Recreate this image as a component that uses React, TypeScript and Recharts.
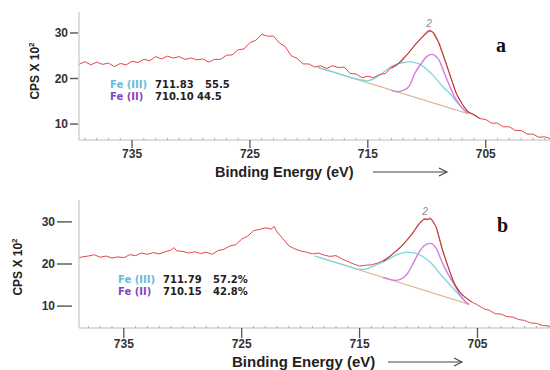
import { LineChart, Line, XAxis, YAxis } from "recharts"

// ---- panel a : measured spectrum ----
const energyA = [
  739.5, 739, 738.5, 738, 737.5, 737, 736.5, 736, 735.5, 735, 734.5, 734, 733.5, 733, 732.5, 732,
  731.5, 731, 730.5, 730, 729.5, 729, 728.5, 728, 727.5, 727, 726.5, 726, 725.5, 725, 724.5, 724,
  723.5, 723, 722.5, 722, 721.5, 721, 720.5, 720, 719.5, 719, 718.5, 718, 717.5, 717, 716.5, 716,
  715.5, 715, 714.5, 714, 713.5, 713, 712.5, 712, 711.5, 711, 710.5, 710, 709.75, 709.5, 709,
  708.5, 708, 707.5, 707, 706.5, 706, 705.5, 705, 704.5, 704, 703.5, 703, 702.5, 702, 701.5, 701,
  700.5, 700, 699.5,
]
const cpsA = [
  23.1, 23.7, 23.0, 23.6, 23.1, 23.4, 22.6, 23.3, 23.0, 23.8, 23.5, 24.2, 23.9, 24.8, 24.3, 24.9,
  24.5, 24.8, 24.2, 24.5, 24.1, 24.3, 23.6, 24.2, 24.2, 25.1, 25.2, 26.3, 26.5, 27.9, 28.4, 29.7,
  29.3, 29.3, 27.8, 27.0, 25.0, 24.4, 23.2, 23.2, 22.5, 22.8, 22.2, 22.8, 22.4, 22.5, 21.1, 21.0,
  20.2, 20.5, 20.2, 20.9, 21.1, 22.5, 23.0, 24.5, 25.7, 27.5, 28.7, 30.3, 30.6, 30.2, 27.9,
  24.3, 20.5, 16.7, 14.4, 12.7, 12.1, 11.2, 11.0, 10.2, 10.2, 9.4, 9.4, 8.6, 8.6, 7.8, 7.8,
  7.1, 7.2, 6.8,
]
// panel a : fit
const envEnergyA = [713, 712.5, 712, 711.5, 711, 710.5, 710, 709.75, 709.5, 709, 708.5, 708, 707.5, 707, 706.5, 706, 705.5]
const envA = [22.2, 23.1, 24.2, 25.8, 27.3, 28.8, 30.0, 30.4, 30.2, 28.0, 24.4, 20.5, 16.8, 14.4, 12.7, 12.0, 11.2]
const bgEnergyA = [719.2, 706.5]
const bgA = [22.4, 12.3]
const fe3EnergyA = [719.2, 718, 717, 716, 715, 714.5, 714, 713.5, 713, 712.5, 712, 711.5, 711, 710.5, 710, 709.5, 709, 708.5, 708, 707.5, 707, 706.5]
const fe3A = [22.4, 21.5, 20.7, 19.9, 19.5, 19.9, 20.7, 21.7, 22.6, 23.2, 23.5, 23.7, 23.5, 23.0, 22.0, 20.8, 19.3, 17.8, 16.6, 15.0, 13.6, 12.3]
const fe2EnergyA = [713, 712.5, 712, 711.5, 711, 710.5, 710, 709.6, 709, 708.5, 708, 707.5, 707, 706.5]
const fe2A = [17.4, 17.1, 17.4, 18.3, 21.2, 23.2, 24.8, 25.3, 24.2, 21.1, 18.0, 15.3, 13.5, 12.3]

// ---- panel b : measured spectrum ----
const energyB = [
  739, 738.5, 738, 737.5, 737, 736.5, 736, 735.5, 735, 734.5, 734, 733.5, 733, 732.5, 732, 731.5,
  731, 730.75, 730.5, 730, 729.5, 729, 728.5, 728, 727.5, 727, 726.5, 726, 725.5, 725, 724.5, 724,
  723.5, 723, 722.5, 722.25, 722, 721.5, 721, 720.5, 720, 719.5, 719, 718.5, 718, 717.5, 717,
  716.5, 716, 715.5, 715, 714.5, 714, 713.5, 713, 712.5, 712, 711.5, 711, 710.5, 710, 709.5,
  709.25, 709, 708.5, 708, 707.5, 707, 706.5, 706, 705.5, 705, 704.5, 704, 703.5, 703, 702.5,
  702, 701.5, 701, 700.5, 700, 699.5, 699, 698.5,
]
const cpsB = [
  21.3, 21.7, 21.9, 22.2, 21.6, 21.9, 21.4, 21.7, 21.5, 22.2, 22.0, 22.6, 22.3, 22.7, 22.4, 22.9,
  23.3, 23.9, 23.1, 23.0, 22.6, 22.9, 22.5, 22.8, 22.3, 23.2, 23.5, 24.3, 24.6, 25.9, 26.6, 27.9,
  28.2, 28.6, 28.3, 28.9, 27.6, 26.0, 24.3, 23.6, 23.1, 22.8, 22.4, 22.6, 22.1, 21.8, 22.0,
  21.2, 20.6, 20.0, 19.5, 19.7, 19.8, 20.2, 20.8, 21.7, 22.9, 24.0, 25.6, 27.2, 29.5, 30.8,
  30.5, 31.0, 28.8, 23.6, 19.4, 15.5, 13.3, 12.0, 11.0, 10.3, 9.4, 9.0, 8.2, 8.1, 7.5,
  7.4, 6.8, 6.6, 6.0, 5.9, 5.4, 5.3, 4.9,
]
// panel b : fit
const envEnergyB = [713, 712.5, 712, 711.5, 711, 710.5, 710, 709.5, 709, 708.5, 708, 707.5, 707, 706.5, 706, 705.5]
const envB = [20.6, 21.6, 22.8, 24.1, 25.6, 27.4, 29.3, 30.6, 30.7, 28.7, 23.7, 19.4, 15.6, 13.3, 12.0, 11.0]
const bgEnergyB = [718.8, 705.7]
const bgB = [21.9, 10.4]
const fe3EnergyB = [718.8, 718, 717, 716, 715, 714.5, 714, 713.5, 713, 712.5, 712, 711.5, 711, 710.5, 710, 709.5, 709, 708.5, 708, 707.5, 707, 706.5, 706, 705.7]
const fe3B = [21.9, 21.2, 20.35, 19.5, 18.7, 18.8, 19.3, 19.9, 20.5, 21.2, 22.0, 22.5, 22.8, 22.7, 22.3, 21.5, 20.4, 18.8, 17.1, 15.6, 14.0, 12.5, 11.0, 10.4]
const fe2EnergyB = [713, 712.5, 712, 711.5, 711, 710.5, 710, 709.5, 709, 708.5, 708, 707.5, 707, 706.5, 706, 705.7]
const fe2B = [16.8, 16.4, 16.1, 16.4, 17.5, 19.9, 22.6, 24.4, 24.9, 23.7, 20.4, 17.6, 15.3, 12.8, 11.0, 10.4]

// ticks
const majorTicks = [735, 725, 715, 705]
const minorTicksA = [
  700, 701, 702, 703, 704, 705, 706, 707, 708, 709, 710, 711, 712, 713, 714, 715, 716, 717, 718, 719,
  720, 721, 722, 723, 724, 725, 726, 727, 728, 729, 730, 731, 732, 733, 734, 735, 736, 737, 738, 739,
]
const minorTicksB = [
  699, 700, 701, 702, 703, 704, 705, 706, 707, 708, 709, 710, 711, 712, 713, 714, 715, 716, 717, 718,
  719, 720, 721, 722, 723, 724, 725, 726, 727, 728, 729, 730, 731, 732, 733, 734, 735, 736, 737, 738,
]
const yTicks = [10, 20, 30]

const pairs = (es: number[], vs: number[]) => es.map((e, i) => ({ e, v: vs[i] }))

const SANS = '"Liberation Sans", Arial, Helvetica, sans-serif'
const WIDE = '"DejaVu Sans", Verdana, sans-serif'

const C_SPEC = "#e2474b"
const C_ENV = "#a5352b"
const C_BG = "#dbbb9e"
const C_FE3 = "#7fd6de"
const C_FE2 = "#d67ce0"

function EnergyTick({ x, y, payload, len, gap }: any) {
  if (!majorTicks.includes(payload.value)) {
    return <line x1={x} x2={x} y1={y - 2} y2={y} stroke="#aaa" />
  }
  return (
    <g>
      <line x1={x} x2={x} y1={y} y2={y + len} stroke="#555" strokeWidth={1.3} />
      <text x={x} y={y + gap} textAnchor="middle" fontSize={12} fontWeight="bold" fill="#333" fontFamily={SANS}>
        {payload.value}
      </text>
    </g>
  )
}

function CpsTick({ x, y, payload, from, to, textX }: any) {
  return (
    <g>
      <line x1={x - from} x2={x - to} y1={y} y2={y} stroke="#555" strokeWidth={1.4} />
      <text x={x - textX} y={y + 4} textAnchor="end" fontSize={12} fontWeight="bold" fill="#333" fontFamily={SANS}>
        {payload.value}
      </text>
    </g>
  )
}

function Panel(props: any) {
  const { marginTop, axisHeight, domain, yDomain, minorTicks, spec, env, bg, fe3, fe2, xt, yt } = props
  return (
    <LineChart width={560} height={185} margin={{ top: marginTop, right: 0, bottom: 0, left: 0 }}>
      <XAxis
        dataKey="e"
        type="number"
        domain={domain}
        reversed
        allowDataOverflow
        ticks={minorTicks}
        interval={0}
        tickSize={0}
        tickMargin={0}
        tickLine={false}
        height={axisHeight}
        axisLine={{ stroke: "#bdbdbd" }}
        tick={(p: any) => <EnergyTick {...p} len={xt.len} gap={xt.gap} />}
      />
      <XAxis
        xAxisId="top"
        orientation="top"
        type="number"
        domain={domain}
        height={0}
        tick={false}
        tickLine={false}
        axisLine={{ stroke: "#cfcfcf" }}
      />
      <YAxis
        type="number"
        domain={yDomain}
        allowDataOverflow
        ticks={yTicks}
        interval={0}
        width={79}
        tickSize={0}
        tickMargin={0}
        tickLine={false}
        axisLine={{ stroke: "#bdbdbd" }}
        tick={(p: any) => <CpsTick {...p} from={yt.from} to={yt.to} textX={yt.textX} />}
      />
      <Line data={bg} dataKey="v" type="linear" stroke={C_BG} strokeWidth={1.2} dot={false} isAnimationActive={false} />
      <Line data={fe3} dataKey="v" type="monotone" stroke={C_FE3} strokeWidth={1.3} dot={false} isAnimationActive={false} />
      <Line data={fe2} dataKey="v" type="monotone" stroke={C_FE2} strokeWidth={1.4} dot={false} isAnimationActive={false} />
      <Line data={spec} dataKey="v" type="linear" stroke={C_SPEC} strokeWidth={1} dot={false} isAnimationActive={false} />
      <Line data={env} dataKey="v" type="monotone" stroke={C_ENV} strokeWidth={1.1} strokeOpacity={0.75} dot={false} isAnimationActive={false} />
    </LineChart>
  )
}

function Arrow({ x1, x2, y }: any) {
  return (
    <g stroke="#444" strokeWidth={1.1} fill="none">
      <line x1={x1} x2={x2} y1={y} y2={y} />
      <polyline points={`${x2 - 8},${y - 4} ${x2},${y} ${x2 - 8},${y + 4}`} />
    </g>
  )
}

export default function App() {
  const t = { fontFamily: SANS, fontWeight: "bold" as const }
  const w = { fontFamily: WIDE, fontWeight: "bold" as const, fontSize: 10 }
  return (
    <div style={{ position: "absolute", left: 0, top: 0, width: 550, height: 370, overflow: "hidden", background: "#fff" }}>
      <div style={{ position: "absolute", left: 0, top: 0 }}>
        <Panel
          marginTop={12}
          axisHeight={45}
          domain={[698.7, 739.5]}
          yDomain={[6.5, 34.6]}
          minorTicks={minorTicksA}
          spec={pairs(energyA, cpsA)}
          env={pairs(envEnergyA, envA)}
          bg={pairs(bgEnergyA, bgA)}
          fe3={pairs(fe3EnergyA, fe3A)}
          fe2={pairs(fe2EnergyA, fe2A)}
          xt={{ len: 8, gap: 18 }}
          yt={{ from: 1, to: 9, textX: 11 }}
        />
      </div>
      <div style={{ position: "absolute", left: 0, top: 185 }}>
        <Panel
          marginTop={15}
          axisHeight={42}
          domain={[698.0, 738.8]}
          yDomain={[4.8, 35.2]}
          minorTicks={minorTicksB}
          spec={pairs(energyB, cpsB)}
          env={pairs(envEnergyB, envB)}
          bg={pairs(bgEnergyB, bgB)}
          fe3={pairs(fe3EnergyB, fe3B)}
          fe2={pairs(fe2EnergyB, fe2B)}
          xt={{ len: 10, gap: 20 }}
          yt={{ from: 7, to: 22, textX: 24 }}
        />
      </div>
      <svg width={550} height={370} style={{ position: "absolute", left: 0, top: 0, pointerEvents: "none" }}>
        {/* panel a texts */}
        <text x={496} y={52} fontSize={20} fontWeight="bold" fontFamily='"Liberation Serif", "Times New Roman", serif' fill="#111">a</text>
        <text x={429} y={27} fontSize={10} fontStyle="italic" textAnchor="middle" fill="#888" fontFamily={SANS}>2</text>
        <text transform="translate(39,71) rotate(-90)" textAnchor="middle" fontSize={12} fill="#222" {...t}>
          CPS X 10<tspan dy={-5} fontSize={8}>2</tspan>
        </text>
        <text x={110} y={88} fill="#62bddd" {...w}>Fe (III)</text>
        <text x={155} y={88} fill="#222" {...w}>711.83</text>
        <text x={205} y={88} fill="#222" {...w}>55.5</text>
        <text x={110} y={100} fill="#8244c4" {...w}>Fe (II)</text>
        <text x={155} y={100} fill="#222" {...w}>710.10</text>
        <text x={197} y={100} fill="#222" {...w}>44.5</text>
        <text x={215} y={177} fontSize={14.5} fill="#222" {...t}>Binding Energy (eV)</text>
        <Arrow x1={373} x2={447} y={172} />

        {/* panel b texts */}
        <text x={497} y={232} fontSize={20} fontWeight="bold" fontFamily='"Liberation Serif", "Times New Roman", serif' fill="#111">b</text>
        <text x={425} y={215} fontSize={10} fontStyle="italic" textAnchor="middle" fill="#888" fontFamily={SANS}>2</text>
        <text transform="translate(22,267) rotate(-90)" textAnchor="middle" fontSize={12} fill="#222" {...t}>
          CPS X 10<tspan dy={-5} fontSize={8}>2</tspan>
        </text>
        <text x={118} y={283} fill="#62bddd" {...w}>Fe (III)</text>
        <text x={163} y={283} fill="#222" {...w}>711.79</text>
        <text x={213} y={283} fill="#222" {...w}>57.2%</text>
        <text x={118} y={295} fill="#8244c4" {...w}>Fe (II)</text>
        <text x={163} y={295} fill="#222" {...w}>710.15</text>
        <text x={213} y={295} fill="#222" {...w}>42.8%</text>
        <text x={232} y={367} fontSize={15} fill="#222" {...t}>Binding Energy (eV)</text>
        <Arrow x1={388} x2={462} y={362} />
      </svg>
    </div>
  )
}
